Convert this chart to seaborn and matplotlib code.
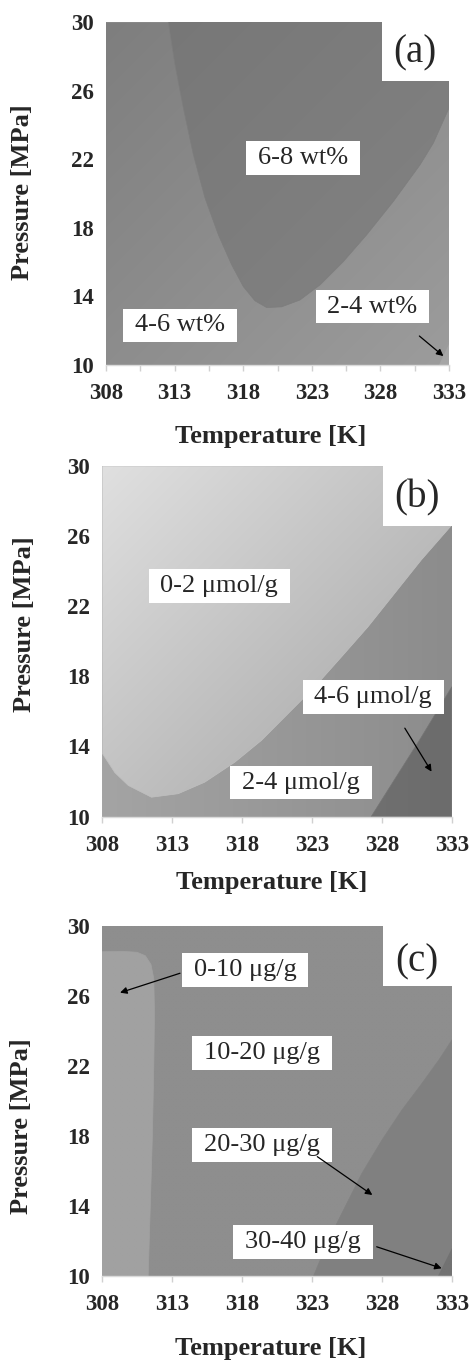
import numpy as np
import matplotlib
matplotlib.use("Agg")
import matplotlib.pyplot as plt
import seaborn as sns
import pandas as pd
from matplotlib.path import Path
from matplotlib.patches import Rectangle

# ---------------- data ----------------
T_TICKS = [308, 313, 318, 323, 328, 333]
P_TICKS = [10, 14, 18, 22, 26, 30]

# (a) 6-8 wt% contour boundary (U shape)
A_68_T = [312.54, 313.03, 313.64, 314.37, 315.22, 316.19, 317.16, 318.01, 318.86, 319.71,
          320.80, 322.14, 323.60, 325.30, 327.00, 328.94, 330.89, 331.86, 333.00]
A_68_P = [30.00, 27.51, 24.98, 22.26, 19.73, 17.59, 15.84, 14.57, 13.74, 13.35,
          13.39, 13.79, 14.67, 16.03, 17.59, 19.53, 21.67, 22.94, 24.98]
# (a) 2-4 wt% corner
A_24_T = [332.3, 333.0, 333.0]
A_24_P = [10.0, 10.0, 11.2]

# (b) 0-2 umol/g boundary
B_02_T = [308.00, 308.90, 309.86, 311.52, 313.43, 315.33, 317.48, 319.38, 321.29,
          323.19, 325.10, 327.00, 328.90, 330.81, 333.00]
B_02_P = [13.60, 12.50, 11.77, 11.10, 11.30, 11.96, 13.10, 14.34, 15.87,
          17.39, 19.10, 20.82, 22.72, 24.63, 26.63]
# (b) 4-6 umol/g boundary
B_46_T = [327.24, 328.90, 330.80, 333.00]
B_46_P = [10.00, 12.10, 14.50, 17.40]

# (c) 0-10 ug/g boundary
C_010_T = [308.00, 309.50, 310.50, 311.10, 311.50, 311.70, 311.75, 311.70, 311.60, 311.45, 311.30]
C_010_P = [28.53, 28.55, 28.50, 28.30, 27.80, 27.00, 25.00, 22.00, 18.00, 14.00, 10.00]
# (c) 20-30 ug/g boundary
C_2030_T = [323.11, 324.18, 325.37, 326.57, 328.00, 329.43, 330.86, 332.06, 333.00]
C_2030_P = [10.00, 12.06, 13.96, 15.87, 17.77, 19.49, 21.01, 22.34, 23.49]
# (c) 30-40 ug/g corner
C_3040_T = [332.0, 333.0, 333.0]
C_3040_P = [10.0, 10.0, 11.6]

A_LABELS = ["6-8 wt%", "4-6 wt%", "2-4 wt%"]
A_LAB_T = [322.36, 313.37, 327.42]
A_LAB_P = [22.07, 12.31, 13.40]
A_ARROWS = [((330.84, 11.69), (332.59, 10.52))]

B_LABELS = ["0-2 \u03bcmol/g", "4-6 \u03bcmol/g", "2-4 \u03bcmol/g"]
B_LAB_T = [316.37, 327.38, 322.21]
B_LAB_P = [23.14, 16.82, 11.94]
B_ARROWS = [((329.64, 15.04), (331.55, 12.56))]

C_LABELS = ["0-10 \u03bcg/g", "10-20 \u03bcg/g", "20-30 \u03bcg/g", "30-40 \u03bcg/g"]
C_LAB_T = [318.23, 319.43, 319.43, 322.36]
C_LAB_P = [27.50, 22.75, 17.49, 11.94]
C_ARROWS = [((313.57, 27.30), (309.29, 26.19)),
            ((323.38, 16.82), (327.31, 14.63)),
            ((327.62, 11.67), (332.26, 10.44))]

TMIN, TMAX, PMIN, PMAX = 308, 333, 10, 30

# ---------------- style ----------------
sns.set_theme(style="white")
plt.rcParams["font.family"] = ["Liberation Serif", "DejaVu Serif"]
plt.rcParams["mathtext.fontset"] = "custom"

fig = plt.figure(figsize=(4.71, 13.62), dpi=100)
W, H = 471, 1362


def add_axes(l, r, t, b):
    return fig.add_axes([l / W, 1 - b / H, (r - l) / W, (b - t) / H])


def label_box(x0, y0, width, height, mutation_size):
    px = 0.45 * mutation_size
    py = 0.22 * mutation_size
    x0, y0 = x0 - px, y0 - py
    x1, y1 = x0 + width + 2 * px, y0 + height + 2 * py
    return Path([(x0, y0), (x1, y0), (x1, y1), (x0, y1), (x0, y0)], closed=True)


def shade(ax, T, P, c0, c1, mode, z):
    poly = ax.fill(T, P, facecolor="none", edgecolor="none", zorder=z)[0]
    xs = np.linspace(0, 1, 300)
    X, Y = np.meshgrid(xs, xs)
    if mode == "diag":
        t = (X + (1 - Y)) / 2
    else:
        t = X
    g = (c0 + (c1 - c0) * t) / 255.0
    img = np.dstack([g, g, g])
    im = ax.imshow(img, extent=(TMIN, TMAX, PMIN, PMAX), origin="lower",
                   aspect="auto", zorder=z, interpolation="bilinear")
    im.set_clip_path(poly)
    # soft edge along the boundary
    df = pd.DataFrame({"T": T, "P": P})
    mid = (c0 + c1) / 2 / 255.0
    sns.lineplot(data=df, x="T", y="P", ax=ax, sort=False, estimator=None,
                 color=(mid, mid, mid), lw=0.5, zorder=z)


FULL_T = [TMIN, TMAX, TMAX, TMIN]
FULL_P = [PMIN, PMIN, PMAX, PMAX]


def finish(ax, letter, letter_P, ylab_xy, xlab_xy, minor):
    ax.add_patch(Rectangle((328.1, 26.57), 5.5, 4.0, facecolor="white",
                           edgecolor="none", zorder=5, clip_on=False))
    ax.text(330.5, letter_P, letter, fontsize=28, ha="center", va="center", zorder=6)
    ax.set_xlim(TMIN, TMAX)
    ax.set_ylim(PMIN, PMAX)
    ax.set_xticks(T_TICKS)
    ax.set_xticklabels([str(v) for v in T_TICKS], fontsize=16.5, fontweight="bold")
    ax.set_yticks(P_TICKS)
    ax.set_yticklabels([str(v) for v in P_TICKS], fontsize=16.5, fontweight="bold")
    if minor:
        ax.set_xticks([t + 2.5 for t in T_TICKS[:-1]], minor=True)
    ax.tick_params(axis="x", which="both", direction="out", length=4, width=1,
                   color="#d0d0d0", pad=9, bottom=True)
    ax.tick_params(axis="y", length=0, pad=9)
    for s in ["top", "right", "left"]:
        ax.spines[s].set_visible(False)
    ax.spines["bottom"].set_color("#dadada")
    ax.spines["bottom"].set_linewidth(1)
    ax.spines["bottom"].set_zorder(7)
    ax.set_xlabel("Temperature [K]", fontsize=19, fontweight="bold")
    ax.set_ylabel("Pressure [MPa]", fontsize=19, fontweight="bold")
    ax.xaxis.set_label_coords(*xlab_xy)
    ax.yaxis.set_label_coords(*ylab_xy)
    ax.xaxis.label.set_va("center")
    ax.yaxis.label.set_va("center")
    ax.set_facecolor("white")
    ax.grid(False)


def put_labels(ax, labels, lt, lp, arrows):
    for s, x, y in zip(labels, lt, lp):
        ax.text(x, y, s, fontsize=19, ha="center", va="center", zorder=8,
                bbox=dict(boxstyle=label_box, facecolor="white", edgecolor="none"))
    for (x0, y0), (x1, y1) in arrows:
        ax.annotate("", xy=(x1, y1), xytext=(x0, y0), zorder=9,
                    arrowprops=dict(arrowstyle="-|>", color="black", lw=0.9,
                                    mutation_scale=10, shrinkA=0, shrinkB=0))


# ---------------- panel (a) ----------------
axA = add_axes(106, 449, 22, 365)
shade(axA, FULL_T, FULL_P, 0x7e, 0x9c, "diag", 1)
shade(axA, A_68_T + [TMAX], A_68_P + [PMAX], 0x76, 0x84, "diag", 2)
shade(axA, A_24_T, A_24_P, 0xa6, 0xa6, "h", 3)
put_labels(axA, A_LABELS, A_LAB_T, A_LAB_P, A_ARROWS)
finish(axA, "(a)", 28.19, (-0.242, 0.504), (0.481, -0.207), True)

# ---------------- panel (b) ----------------
axB = add_axes(102.3, 451.8, 466, 816.5)
shade(axB, FULL_T, FULL_P, 0xa4, 0x8c, "h", 1)
shade(axB, B_02_T + [TMAX, TMIN], B_02_P + [PMAX, PMAX], 0xe0, 0xa0, "diag", 2)
shade(axB, B_46_T + [TMAX], B_46_P + [PMIN], 0x7c, 0x6c, "h", 3)
put_labels(axB, B_LABELS, B_LAB_T, B_LAB_P, B_ARROWS)
finish(axB, "(b)", 28.16, (-0.224, 0.549), (0.485, -0.187), False)

# ---------------- panel (c) ----------------
axC = add_axes(102, 452, 926, 1276)
shade(axC, FULL_T, FULL_P, 0x8e, 0x8e, "h", 1)
shade(axC, C_010_T + [TMIN], C_010_P + [PMIN], 0xa1, 0xa1, "h", 2)
shade(axC, C_2030_T + [TMAX], C_2030_P + [PMIN], 0x82, 0x80, "h", 3)
shade(axC, C_3040_T, C_3040_P, 0x72, 0x72, "h", 4)
put_labels(axC, C_LABELS, C_LAB_T, C_LAB_P, C_ARROWS)
finish(axC, "(c)", 27.96, (-0.229, 0.429), (0.483, -0.206), False)

fig.savefig("out.png", dpi=100, facecolor="white")
